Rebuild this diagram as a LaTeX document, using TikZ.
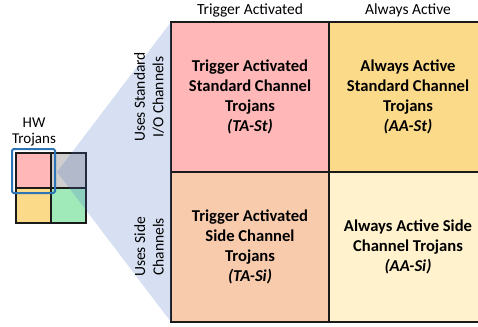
\documentclass[tikz,border=0pt]{standalone}
\usepackage{fontspec}
\setmainfont{Carlito}
\definecolor{cellpink}{HTML}{FFB7B7}
\definecolor{cellgold}{HTML}{FBDA8A}
\definecolor{cellpeach}{HTML}{F8CBAD}
\definecolor{cellcream}{HTML}{FFF2CC}
\definecolor{cellgray}{HTML}{D0CECE}
\definecolor{cellgreen}{HTML}{A0EABA}
\definecolor{funnelblue}{HTML}{4472C4}
\definecolor{pickblue}{HTML}{2E75B6}
\definecolor{gridline}{HTML}{1A1A1A}
\tikzset{
  bigcell/.style={draw=gridline, line width=1.5pt, minimum width=158pt,
    minimum height=150pt, inner sep=0pt, outer sep=0pt, anchor=north west,
    align=center, font=\fontsize{16.6}{20}\selectfont\bfseries},
  smallcell/.style={draw=gridline, line width=1.5pt, minimum width=35pt,
    minimum height=35pt, inner sep=0pt, outer sep=0pt, anchor=north west},
  header/.style={font=\fontsize{15.5}{18}\selectfont, inner sep=0pt},
  rowlabel/.style={font=\fontsize{15.5}{18.5}\selectfont, align=center,
    rotate=90, inner sep=0pt},
}
\begin{document}
\begin{tikzpicture}[x=1pt,y=-1pt]
\useasboundingbox (0,0) rectangle (478,326);
\clip (0,0) rectangle (478,326);

% small overview grid
\node[smallcell, fill=cellpink]  (sTL) at (16,153) {};
\node[smallcell, fill=cellgray]  (sTR) at (51,153) {};
\node[smallcell, fill=cellgold]  (sBL) at (16,188) {};
\node[smallcell, fill=cellgreen] (sBR) at (51,188) {};
\node[font=\fontsize{15}{16}\selectfont, align=center, inner sep=0pt]
  (hw) at (34,132) {HW\\Trojans};

% big classification grid
\node[bigcell, fill=cellpink]  (taSt) at (171,22)
  {Trigger Activated\\Standard Channel\\Trojans\\\textit{(TA-St)}};
\node[bigcell, fill=cellgold]  (aaSt) at (329,22)
  {Always Active\\Standard Channel\\Trojans\\\textit{(AA-St)}};
\node[bigcell, fill=cellpeach] (taSi) at (171,172)
  {Trigger Activated\\Side Channel\\Trojans\\\textit{(TA-Si)}};
\node[bigcell, fill=cellcream] (aaSi) at (329,172)
  {Always Active Side\\Channel Trojans\\\textit{(AA-Si)}};

% zoom funnel from the highlighted cell to the big grid
\coordinate (apex) at (57,172);
\fill[funnelblue, opacity=0.22] (apex) -- (taSt.north west) -- (taSi.south west) -- cycle;

% highlight around the top-left small cell
\draw[pickblue, line width=2pt, rounded corners=1.5pt] (12,149) rectangle (55,193);

% column headers
\node[header] (hTA) at (taSt.north |- 0,10) {Trigger Activated};
\node[header] (hAA) at (aaSt.north |- 0,10) {Always Active};

% row labels
\node[rowlabel] (rSt) at (149,97) {Uses Standard\\I/O Channels};
\node[rowlabel] (rSi) at (149,247) {Uses Side\\Channels};
\end{tikzpicture}
\end{document}
